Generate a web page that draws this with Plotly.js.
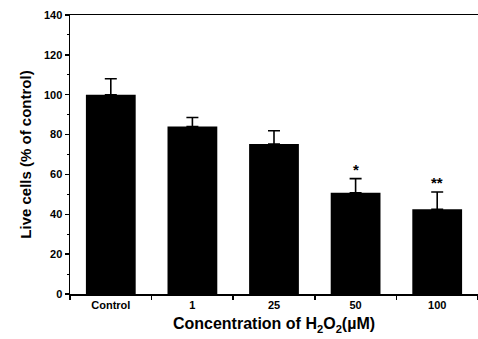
<!DOCTYPE html>
<html><head><meta charset="utf-8">
<script src="https://cdn.plot.ly/plotly-3.0.1.min.js"></script>
<style>body{margin:0;background:#fff}#c{width:478px;height:339px}</style>
</head><body><div id="c"></div>
<script>
const categories = ["Control", "1", "25", "50", "100"];
const liveCells = [100, 84, 75.3, 50.8, 42.5];
const errorPlus = [8, 4.6, 6.6, 7.1, 8.7];
const significance = ["", "", "", "*", "**"];

const font = "Liberation Sans Narrow, Arial Narrow, Liberation Sans, Arial, sans-serif";

const trace = {
  type: "bar",
  x: categories,
  y: liveCells,
  width: 0.61,
  marker: {color: "#000", line: {width: 0}},
  error_y: {type: "data", symmetric: false, array: errorPlus, arrayminus: errorPlus.map(() => 0),
            color: "#000", thickness: 1.6, width: 6},
  hoverinfo: "none"
};

const annotations = [];
categories.forEach((c, i) => {
  if (significance[i]) {
    annotations.push({
      xref: "x", yref: "y", x: i, y: liveCells[i] + errorPlus[i], text: significance[i],
      showarrow: false, yanchor: "bottom", yshift: -1,
      font: {family: font, size: 15, color: "#000", weight: "bold"}
    });
  }
});

const layout = {
  width: 478, height: 339,
  margin: {l: 70, r: 0, t: 15, b: 45},
  paper_bgcolor: "#fff", plot_bgcolor: "#fff",
  showlegend: false,
  font: {family: font, color: "#000"},
  xaxis: {
    type: "category", range: [-0.5, 4.5],
    showline: true, linecolor: "#000", linewidth: 1.5, mirror: true,
    ticks: "outside", tickson: "boundaries", ticklen: 4, tickwidth: 1.5, tickcolor: "#000",
    showgrid: false, zeroline: false,
    tickfont: {family: font, size: 11, color: "#000", weight: "bold"},
    title: {text: "Concentration of H<sub>2</sub>O<sub>2</sub>(µM)", standoff: 8,
            font: {family: font, size: 16, color: "#000", weight: "bold"}}
  },
  yaxis: {
    range: [0, 140], dtick: 20, tick0: 0,
    showline: true, linecolor: "#000", linewidth: 1.5,
    ticks: "outside", ticklen: 4, tickwidth: 1.5, tickcolor: "#000",
    minor: {dtick: 10, ticks: "outside", ticklen: 2, tickwidth: 1, tickcolor: "#000"},
    showgrid: false, zeroline: false,
    tickfont: {family: font, size: 11, color: "#000", weight: "bold"},
    title: {text: "Live cells (% of control)", standoff: 8,
            font: {family: font, size: 15, color: "#000", weight: "bold"}}
  },
  annotations: annotations
};

Plotly.newPlot("c", [trace], layout, {staticPlot: true, displayModeBar: false});
</script></body></html>
